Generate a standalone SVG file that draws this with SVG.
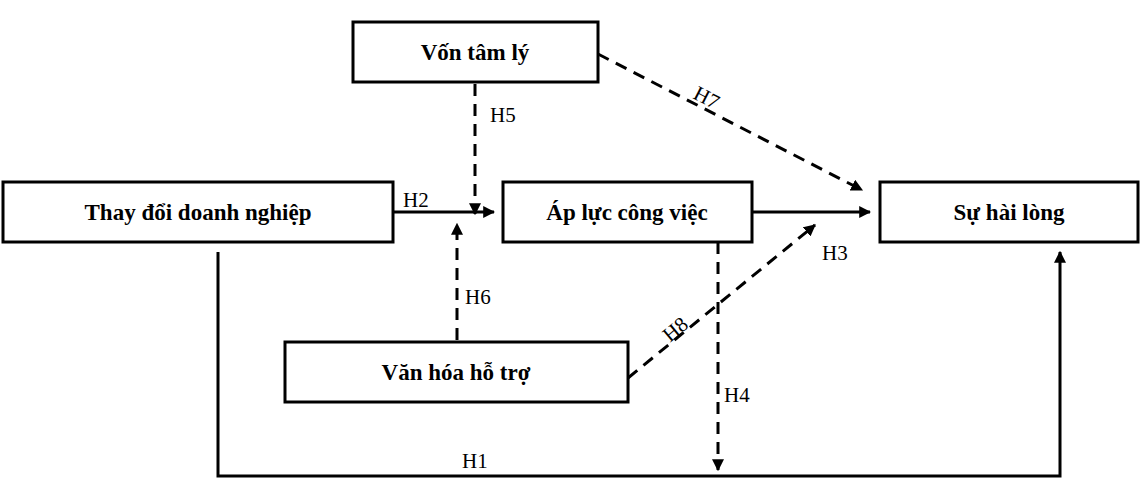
<svg xmlns="http://www.w3.org/2000/svg" width="1147" height="493" viewBox="0 0 1147 493">
<style>
.box{fill:#fff;stroke:#000;stroke-width:3}
.t{font-family:"Liberation Serif",serif;font-weight:bold;font-size:23px;text-anchor:middle}
.l{font-family:"Liberation Serif",serif;font-size:21px}
.s{fill:none;stroke:#000;stroke-width:3}
.d{fill:none;stroke:#000;stroke-width:3;stroke-dasharray:12,8}
</style>
<defs>
<marker id="a" viewBox="0 0 10 10" refX="9" refY="5" markerWidth="4" markerHeight="4" orient="auto"><path d="M0,0L10,5L0,10z"/></marker>
</defs>
<g id="connectors">
<line class="s" x1="393" y1="212" x2="494" y2="212" marker-end="url(#a)"/>
<line class="d" x1="475" y1="84" x2="475" y2="214" marker-end="url(#a)"/>
<line class="d" x1="457" y1="340" x2="457" y2="224" marker-end="url(#a)"/>
<line class="s" x1="752" y1="212" x2="870" y2="212" marker-end="url(#a)"/>
<line class="d" x1="598" y1="54" x2="862" y2="190" marker-end="url(#a)"/>
<line class="d" x1="628" y1="378" x2="815" y2="225" marker-end="url(#a)"/>
<line class="d" x1="718" y1="242" x2="718" y2="470" marker-end="url(#a)"/>
<polyline class="s" points="218,252 218,476 1060,476 1060,252" marker-end="url(#a)"/>
<text class="l" x="403" y="207">H2</text>
<text class="l" x="490" y="122">H5</text>
<text class="l" x="465" y="304">H6</text>
<text class="l" x="822" y="260">H3</text>
<text class="l" x="724" y="402">H4</text>
<text class="l" x="462" y="468">H1</text>
<text class="l" transform="translate(692,98) rotate(27)">H7</text>
<text class="l" transform="translate(670,343) rotate(-40)">H8</text>
</g>
<g id="von"><rect class="box" x="353" y="22" width="245" height="60"/><text class="t" x="475" y="60">Vốn tâm lý</text></g>
<g id="thaydoi"><rect class="box" x="3" y="182" width="390" height="60"/><text class="t" x="198" y="220">Thay đổi doanh nghiệp</text></g>
<g id="apluc"><rect class="box" x="503" y="182" width="249" height="60"/><text class="t" x="627" y="220">Áp lực công việc</text></g>
<g id="hailong"><rect class="box" x="880" y="182" width="258" height="60"/><text class="t" x="1009" y="220">Sự hài lòng</text></g>
<g id="vanhoa"><rect class="box" x="285" y="342" width="343" height="60"/><text class="t" x="456" y="380">Văn hóa hỗ trợ</text></g>
</svg>
